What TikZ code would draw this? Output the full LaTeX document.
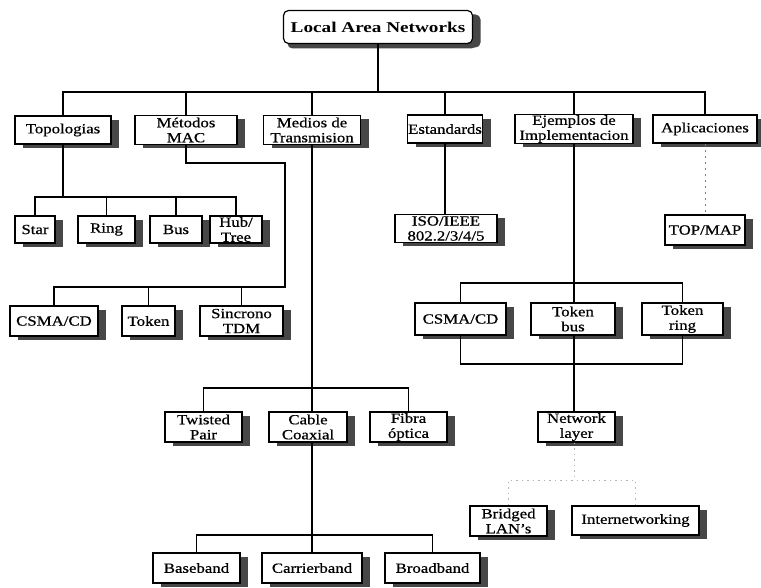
\documentclass[tikz,border=0pt]{standalone}
\usepackage{fontspec}
\setmainfont{Liberation Serif}[FakeStretch=1.2, FakeBold=0.7]
\newfontfamily\titlefont{Liberation Serif}[FakeStretch=1.28]
\usetikzlibrary{shadows}

\begin{document}
\begin{tikzpicture}[x=1pt,y=-1pt,
  box/.style={draw, line width=1.2pt, fill=white, inner sep=0pt, align=center,
    font=\fontsize{14}{15}\selectfont,
    drop shadow={shadow xshift=8pt, shadow yshift=-4pt, fill=black!72, opacity=1}},
  link/.style={line width=1.1pt},
  faint/.style={line width=0.9pt, black!50, dash pattern=on 2pt off 4pt},
  fainter/.style={line width=0.8pt, black!30, dash pattern=on 1.5pt off 4pt}]
\useasboundingbox (0,0) rectangle (761,588);

% root
\node[box, rounded corners=5pt, minimum width=189pt, minimum height=33pt,
  font=\titlefont\fontsize{15}{16}\selectfont\bfseries,
  drop shadow={shadow xshift=4pt, shadow yshift=-5pt, fill=black!72, opacity=1}]
  (title) at (378,27) {Local Area Networks};

% first level
\node[box, minimum width=96pt,  minimum height=28pt] (topo)     at (63,130)  {Topologias};
\node[box, minimum width=102pt, minimum height=29pt] (mac)      at (186,130) {Métodos\\MAC};
\node[box, minimum width=97pt,  minimum height=29pt] (medios)   at (312,130) {Medios de\\Transmision};
\node[box, minimum width=75pt,  minimum height=28pt] (estand)   at (445,129) {Estandards};
\node[box, minimum width=118pt, minimum height=29pt] (ejemplos) at (574,129) {Ejemplos de\\Implementacion};
\node[box, minimum width=104pt, minimum height=28pt] (aplic)    at (705,129) {Aplicaciones};

% topologies
\node[box, minimum width=40pt, minimum height=27pt] (star) at (35,229.5)  {Star};
\node[box, minimum width=57pt, minimum height=27pt] (ring) at (106.5,229.5) {Ring};
\node[box, minimum width=52pt, minimum height=27pt] (busn) at (176,229.5) {Bus};
\node[box, minimum width=52pt, minimum height=27pt] (hub)  at (236,229.5) {Hub/\\Tree};

% MAC methods
\node[box, minimum width=88pt, minimum height=30pt] (csmaA)  at (54,321)    {CSMA/CD};
\node[box, minimum width=53pt, minimum height=30pt] (tokenA) at (148.5,321) {Token};
\node[box, minimum width=83pt, minimum height=30pt] (sinc)   at (241.5,321) {Sincrono\\TDM};

% standards and applications
\node[box, minimum width=102pt, minimum height=28pt] (iso)    at (446,228.5) {ISO/IEEE\\802.2/3/4/5};
\node[box, minimum width=80pt,  minimum height=30pt] (topmap) at (705,230)   {TOP/MAP};

% implementations
\node[box, minimum width=91pt, minimum height=32pt] (csmaB) at (460.5,319) {CSMA/CD};
\node[box, minimum width=84pt, minimum height=32pt] (tbus)  at (573,319)   {Token\\bus};
\node[box, minimum width=81pt, minimum height=32pt] (tring) at (682.5,319) {Token\\ring};
\node[box, minimum width=77pt, minimum height=30pt] (net)   at (576.5,427) {Network\\layer};
\node[box, minimum width=77pt, minimum height=30pt] (bridged)  at (508.5,521) {Bridged\\LAN's};
\node[box, minimum width=127pt, minimum height=29pt] (internet) at (635.5,520.5) {Internetworking};

% media
\node[box, minimum width=77pt, minimum height=30pt] (twisted) at (203.5,427) {Twisted\\Pair};
\node[box, minimum width=78pt, minimum height=30pt] (coax)    at (308,427)   {Cable\\Coaxial};
\node[box, minimum width=77pt, minimum height=30pt] (fibra)   at (408.5,427) {Fibra\\óptica};
\node[box, minimum width=87pt,  minimum height=30pt] (base)    at (196.5,568) {Baseband};
\node[box, minimum width=100pt, minimum height=30pt] (carrier) at (312,568)   {Carrierband};
\node[box, minimum width=95pt,  minimum height=30pt] (broad)   at (432.5,568) {Broadband};

% bar levels
\coordinate (bus)    at (0,92);
\coordinate (tbar)   at (0,197);
\coordinate (macbend) at (285,163);
\coordinate (macbar) at (0,287);
\coordinate (medbar) at (0,388);
\coordinate (cbar)   at (0,535);
\coordinate (ebarA)  at (0,283);
\coordinate (ebarB)  at (0,364);
\coordinate (nbar)   at (0,480);

% root to first level
\draw[link] (title.south) -- (title.south |- bus);
\draw[link] (topo.north) |- (aplic.north |- bus) -- (aplic.north);
\foreach \n in {mac,medios,estand,ejemplos}
  \draw[link] (\n.north) -- (\n.north |- bus);

% topologies
\draw[link] (topo.south) -- (topo.south |- tbar);
\draw[link] (star.north) |- (hub.north |- tbar) -- (hub.north);
\draw[link] (ring.north) -- (ring.north |- tbar);
\draw[link] (busn.north) -- (busn.north |- tbar);

% MAC methods
\draw[link] (mac.south) |- (macbend) |- (csmaA.north |- macbar) -- (csmaA.north);
\draw[link] (tokenA.north) -- (tokenA.north |- macbar);
\draw[link] (sinc.north) -- (sinc.north |- macbar);

% standards and applications
\draw[link] (estand.south) -- (estand.south |- iso.north);
\draw[faint] (aplic.south) -- (aplic.south |- topmap.north);

% media
\draw[link] (medios.south) -- (medios.south |- coax.north);
\draw[link] (twisted.north) |- (fibra.north |- medbar) -- (fibra.north);
\draw[link] (medios.south |- coax.south) -- (medios.south |- cbar);
\draw[link] (base.north) |- (broad.north |- cbar) -- (broad.north);
\draw[link] (carrier.north) -- (carrier.north |- cbar);

% implementations
\draw[link] (ejemplos.south) -- (ejemplos.south |- tbus.north);
\draw[link] (csmaB.north) |- (tring.north |- ebarA) -- (tring.north);
\draw[link] (csmaB.south) |- (tring.south |- ebarB) -- (tring.south);
\draw[link] (ejemplos.south |- tbus.south) -- (ejemplos.south |- net.north);
\draw[fainter] (ejemplos.south |- net.south) -- (ejemplos.south |- nbar);
\draw[fainter] (bridged.north) |- (internet.north |- nbar) -- (internet.north);
\end{tikzpicture}
\end{document}
